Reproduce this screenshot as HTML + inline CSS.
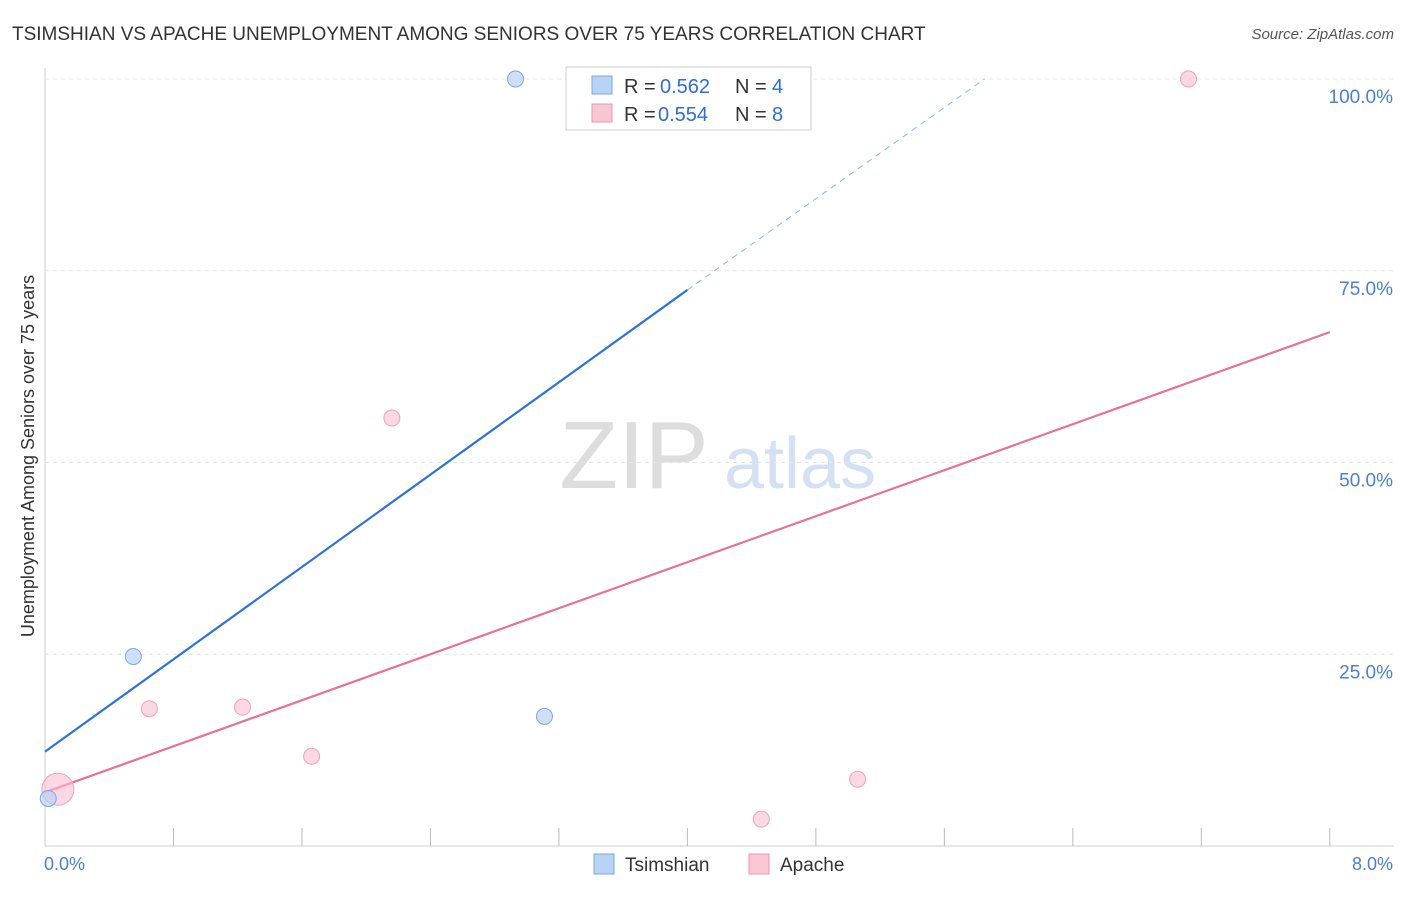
<!DOCTYPE html>
<html><head><meta charset="utf-8"><style>
body{margin:0;background:#fff;font-family:"Liberation Sans",sans-serif;}
svg text{font-family:"Liberation Sans",sans-serif;}
</style></head><body>
<svg width="1406" height="892" id="chart">
<text x="12" y="40" font-size="19" fill="#333">TSIMSHIAN VS APACHE UNEMPLOYMENT AMONG SENIORS OVER 75 YEARS CORRELATION CHART</text>
<text x="1394" y="39" font-size="15" fill="#555" font-style="italic" text-anchor="end">Source: ZipAtlas.com</text>
<text x="634" y="488" font-size="96" fill="#ddd" font-family="Liberation Serif" text-anchor="middle">ZIP</text>
<text x="800" y="488" font-size="72" fill="#d4e0f4" text-anchor="middle">atlas</text>
<text transform="translate(34,456) rotate(-90)" font-size="18" fill="#333" text-anchor="middle">Unemployment Among Seniors over 75 years</text>
<g id="grid"></g><g id="lines"></g><g id="points"></g>
<g>
<rect x="566" y="67" width="245" height="63" fill="#fff" stroke="#ccc"/>
<rect x="592" y="76" width="20" height="18" fill="#b9d3f5" stroke="#7aa7e4"/>
<rect x="592" y="104" width="20" height="18" fill="#f9c6d5" stroke="#ee94b0"/>
<text x="624" y="93" font-size="20" fill="#333">R =</text>
<text x="660" y="93" font-size="20" fill="#2d6fd6">0.562</text>
<text x="735" y="93" font-size="20" fill="#333">N =</text>
<text x="772" y="93" font-size="20" fill="#2d6fd6">4</text>
<text x="624" y="121" font-size="20" fill="#333">R =</text>
<text x="658" y="121" font-size="20" fill="#2d6fd6">0.554</text>
<text x="735" y="121" font-size="20" fill="#333">N =</text>
<text x="772" y="121" font-size="20" fill="#2d6fd6">8</text>
</g>
<g>
<rect x="594" y="854" width="20" height="20" fill="#b9d3f5" stroke="#7aa7e4"/>
<text x="625" y="871" font-size="19" fill="#333">Tsimshian</text>
<rect x="749" y="854" width="20" height="20" fill="#f9c6d5" stroke="#ee94b0"/>
<text x="780" y="871" font-size="19" fill="#333">Apache</text>
</g>
<text x="44" y="870" font-size="18" fill="#4a7fd8">0.0%</text>
<text x="1393" y="870" font-size="18" fill="#4a7fd8" text-anchor="end">8.0%</text>
</svg>
<script>
const yTicks=[25,50,75,100];
const yTickLabels=["25.0%","50.0%","75.0%","100.0%"];
const tsX=[2.93,0.55,3.11,0.02];
const tsY=[100,24.7,16.9,6.2];
const apX=[7.12,2.16,0.65,1.23,1.66,5.06,4.46,0.08];
const apY=[100,55.8,17.9,18.1,11.7,8.7,3.5,7.4];
const apR=[8,8,8,8,8,8,8,16];
const tsLine=[[0,12.3],[4.0,72.5],[5.85,100]];
const apLine=[[0,7.0],[8,67.0]];
const sx=v=>45+v*160.6, sy=v=>846-v*7.67;
const NS="http://www.w3.org/2000/svg";
function mk(t,a,p){const e=document.createElementNS(NS,t);for(const k in a)e.setAttribute(k,a[k]);document.getElementById(p).appendChild(e);return e;}
let ax=mk('line',{x1:45,y1:68,x2:45,y2:846,stroke:'#ccc'},'grid');


let bx=mk('line',{x1:45,y1:846,x2:1394,y2:846,stroke:'#ccc'},'grid');


yTicks.forEach((t,i)=>{
 let g=mk('line',{x1:45,y1:sy(t),x2:1394,y2:sy(t),stroke:'#e4e4e4','stroke-dasharray':'4,4'},'grid');
 
 
 let tx=mk('text',{x:1393,y:sy(t)+24,'font-size':19,fill:'#4a7fd8','text-anchor':'end'},'grid');
 tx.textContent=yTickLabels[i];
 
 
});
for(let i=1;i<=10;i++){
 let tk=mk('line',{x1:sx(i*0.8),y1:828,x2:sx(i*0.8),y2:846,stroke:'#bbb'},'grid');
 
 
}
let l1=mk('line',{x1:sx(tsLine[0][0]),y1:sy(tsLine[0][1]),x2:sx(tsLine[1][0]),y2:sy(tsLine[1][1]),stroke:'#2d73d9','stroke-width':2.2},'lines');


let l2=mk('line',{x1:sx(tsLine[1][0]),y1:sy(tsLine[1][1]),x2:sx(tsLine[2][0]),y2:sy(tsLine[2][1]),stroke:'#8fb3e8','stroke-width':1,'stroke-dasharray':'6,5'},'lines');


let l3=mk('line',{x1:sx(apLine[0][0]),y1:sy(apLine[0][1]),x2:sx(apLine[1][0]),y2:sy(apLine[1][1]),stroke:'#e8709a','stroke-width':2.2},'lines');


apX.forEach((x,i)=>{
 let c=mk('circle',{cx:sx(x),cy:sy(apY[i]),r:apR[i],fill:'rgba(249,190,208,0.6)',stroke:'#eea0b8'},'points');
 
 
});
tsX.forEach((x,i)=>{
 let c=mk('circle',{cx:sx(x),cy:sy(tsY[i]),r:8,fill:'rgba(185,211,245,0.7)',stroke:'#7aa7e4'},'points');
 
 
});
</script>
</body></html>
